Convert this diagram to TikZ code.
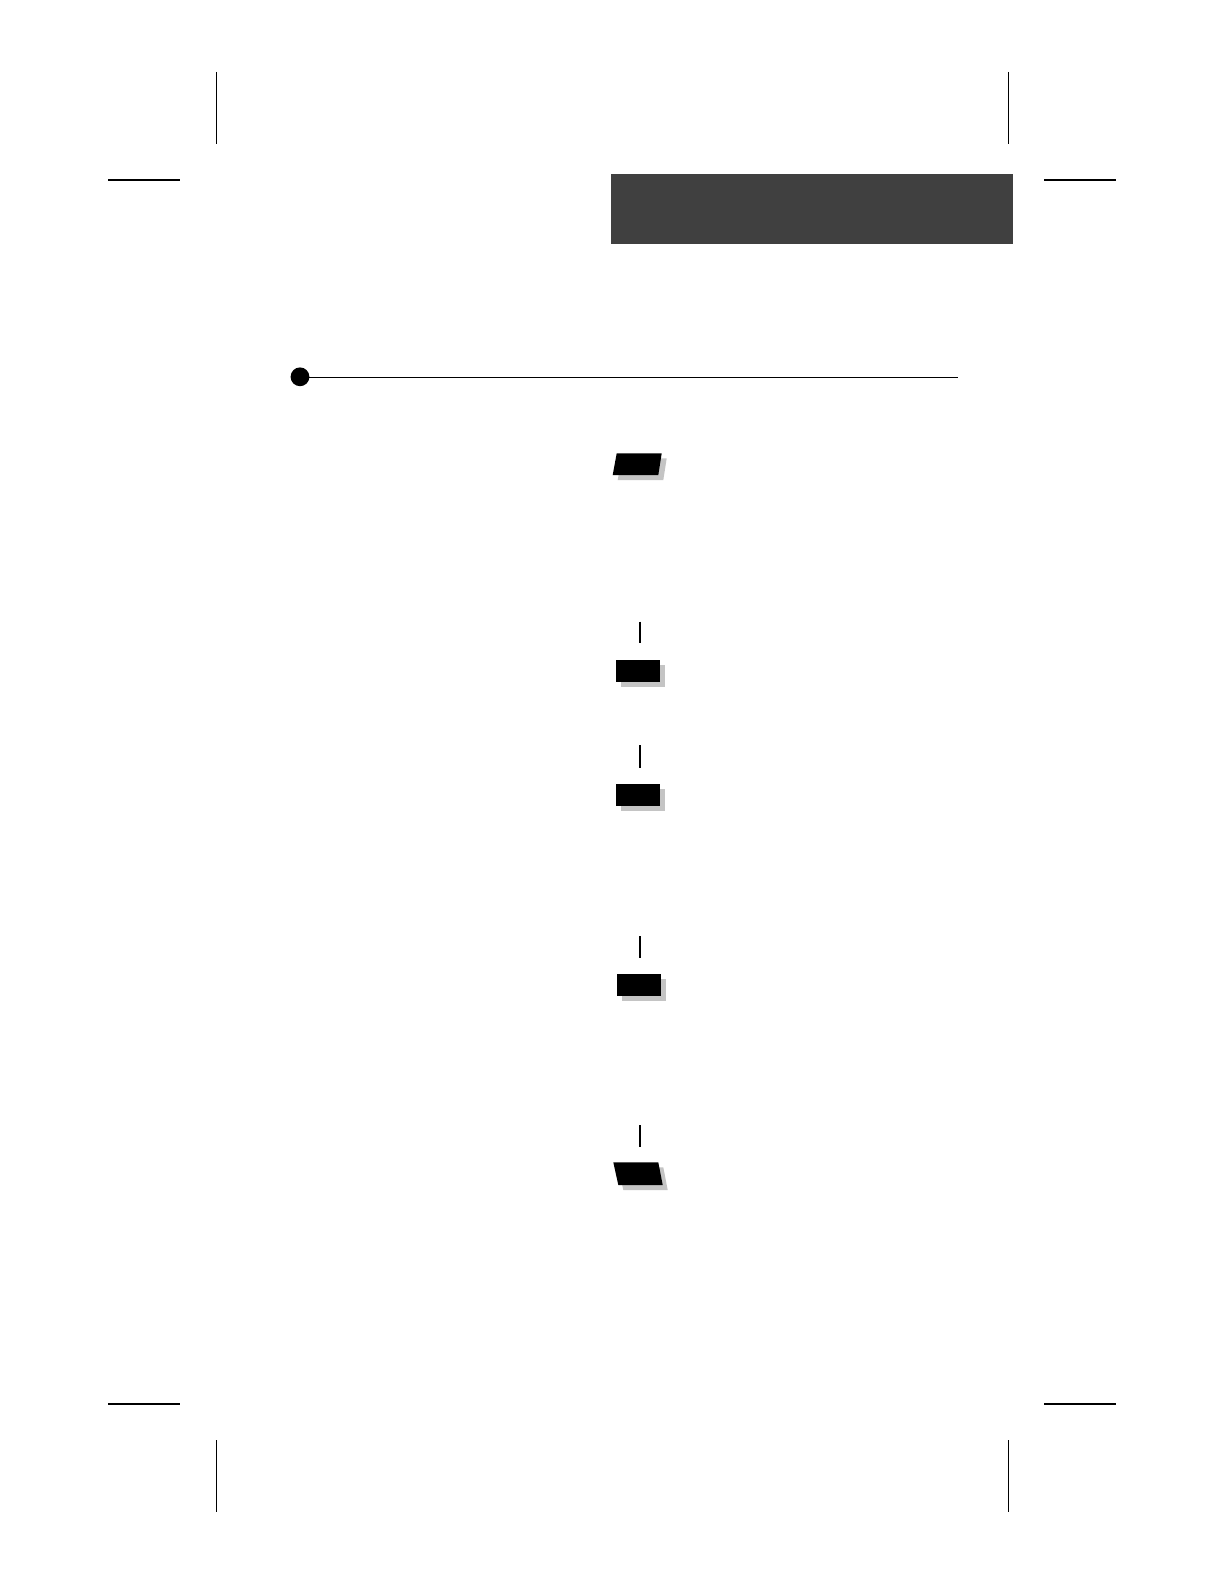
\documentclass[tikz,border=0pt]{standalone}
\usepackage{tikz}
\definecolor{bandgray}{HTML}{404040}
\definecolor{shadowgray}{HTML}{C4C4C4}
\tikzset{
  cropmark/.style={line width=0.6pt, black},
  tickmark/.style={line width=0.7pt, black},
  shadowfill/.style={fill=shadowgray, draw=none},
  markerfill/.style={fill=black, draw=none},
}
\begin{document}
\begin{tikzpicture}[x=0.5pt, y=-0.5pt]
\useasboundingbox (0,0) rectangle (1224,1584);
\fill[white] (0,0) rectangle (1224,1584);
% crop marks
\draw[cropmark] (216.3,72) -- (216.3,143.5);
\draw[cropmark] (108,180) -- (180,180);
\draw[cropmark] (1008.3,72) -- (1008.3,143.5);
\draw[cropmark] (1044,180) -- (1116,180);
\draw[cropmark] (108,1404) -- (180,1404);
\draw[cropmark] (216.3,1440) -- (216.3,1512);
\draw[cropmark] (1044,1404) -- (1116,1404);
\draw[cropmark] (1008.3,1440) -- (1008.3,1512);
% header band
\fill[bandgray] (611,174) rectangle (1012.7,243.7);
% rule with dot
\draw[line width=0.55pt] (300,377.3) -- (957.7,377.3);
\fill (300,376.8) circle (9.4);
% marker 1 (parallelogram)
\fill[shadowgray] (621.7,458.3) -- (666.7,458.3) -- (663.3,480) -- (617.7,480) -- cycle;
\fill[markerfill] (616.7,453.3) -- (661.7,453.3) -- (658.3,475) -- (612.7,475) -- cycle;
% tick + marker 2
\draw[tickmark] (640,621.7) -- (640,643.3);
\fill[shadowfill] (621,665) rectangle (665,686.7);
\fill[markerfill] (616,660) rectangle (660,681.7);
% tick + marker 3
\draw[tickmark] (640,745) -- (640,767.7);
\fill[shadowfill] (621,789) rectangle (665,811);
\fill[markerfill] (616,784) rectangle (660,806);
% tick + marker 4
\draw[tickmark] (640,936) -- (640,957.7);
\fill[shadowfill] (622.3,979) rectangle (666,1001);
\fill[markerfill] (617.3,974) rectangle (661,996);
% tick + marker 5 (parallelogram)
\draw[tickmark] (640,1125) -- (640,1146.7);
\fill[shadowfill] (618.3,1167.3) -- (663.3,1167.3) -- (667.7,1190) -- (623.3,1190) -- cycle;
\fill[markerfill] (613.3,1162.3) -- (658.3,1162.3) -- (662.7,1185) -- (618.3,1185) -- cycle;
\end{tikzpicture}
\end{document}
